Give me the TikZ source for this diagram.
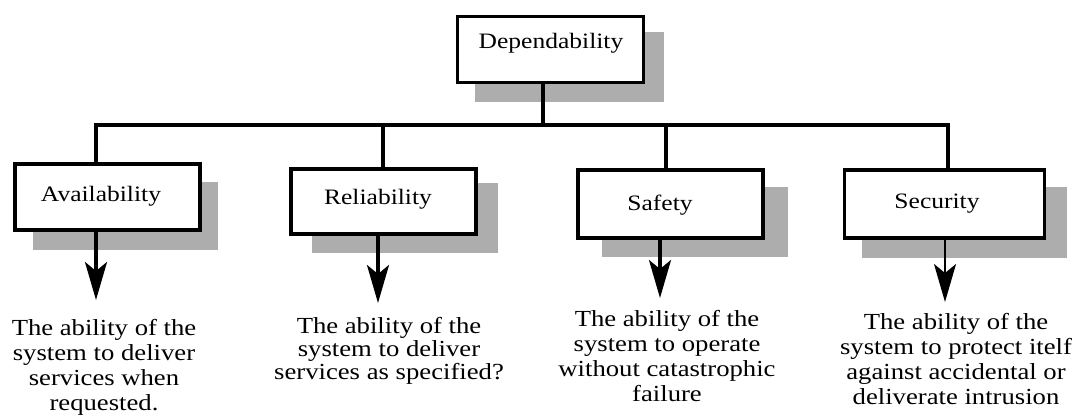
\documentclass[tikz,border=0pt]{standalone}
\usepackage{fontspec}
\setmainfont{Liberation Serif}[FakeStretch=1.16]
\usetikzlibrary{arrows.meta}
\begin{document}
\begin{tikzpicture}[x=1pt,y=-1pt,
  shadowbox/.style={fill=black!32, draw=none},
  mainbox/.style={draw=black, line width=3.6pt, fill=white, rectangle, inner sep=0pt},
  lbl/.style={font=\fontsize{22}{24}\selectfont, inner sep=0pt},
  desc/.style={font=\fontsize{23}{25}\selectfont, align=center, inner xsep=0pt, anchor=north},
  wire/.style={line width=3.3pt},
  arr/.style={line width=3.3pt, -{Stealth[length=38pt,width=22pt,inset=9pt]}},
  thinarr/.style={line width=2pt, -{Stealth[length=38pt,width=22pt,inset=9pt]}}]
\useasboundingbox (0,0) rectangle (1075,415);

% shadows
\fill[shadowbox] (475,32) rectangle (664,102);
\fill[shadowbox] (33,182) rectangle (218,250);
\fill[shadowbox] (312,183) rectangle (498,253);
\fill[shadowbox] (602,187) rectangle (788,257);
\fill[shadowbox] (862,187) rectangle (1067,258);

% boxes
\node[mainbox, minimum width=186pt, minimum height=66pt] (dep) at (550.5,49.5) {};
\node[mainbox, minimum width=185pt, minimum height=66pt] (av) at (107.5,197) {};
\node[mainbox, minimum width=185pt, minimum height=65pt] (rel) at (383.5,201.5) {};
\node[mainbox, minimum width=185pt, minimum height=68pt] (saf) at (670.5,204) {};
\node[mainbox, minimum width=200pt, minimum height=68pt] (sec) at (944.5,204) {};

% labels
\node[lbl] (depl) at (551,43) {Dependability};
\node[lbl] (avl) at (101,196) {Availability};
\node[lbl] (rell) at (378,199) {Reliability};
\node[lbl] (safl) at (660,205) {Safety};
\node[lbl] (secl) at (937,204) {Security};

% tree connectors
\coordinate (jd) at (543,125);
\coordinate (j1) at (96,125);
\coordinate (j2) at (383,125);
\coordinate (j3) at (666,125);
\coordinate (j4) at (948,125);
\draw[wire] (dep.south -| jd) -- (jd);
\draw[wire, line cap=rect] (j1) -- (j4);
\draw[wire] (j1) -- (av.north -| j1);
\draw[wire] (j2) -- (rel.north -| j2);
\draw[wire] (j3) -- (saf.north -| j3);
\draw[wire] (j4) -- (sec.north -| j4);

% descriptions
\node[desc, inner ysep=19pt] (avd) at (104,300) {The ability of the\\system to deliver\\services when\\requested.};
\node[desc, inner ysep=14pt, font=\fontsize{23}{23}\selectfont] (reld) at (389,303) {The ability of the\\system to deliver\\services as specified?};
\node[desc, inner ysep=12pt] (safd) at (667,298) {The ability of the\\system to operate\\without catastrophic\\failure};
\node[desc, inner ysep=11pt] (secd) at (956,302) {The ability of the\\system to protect itelf\\against accidental or\\deliverate intrusion};

% arrows
\coordinate (a1) at (96,0);
\coordinate (a2) at (378,0);
\coordinate (a3) at (660,0);
\coordinate (a4) at (945,0);
\draw[arr] (av.south -| a1) -- (avd.north -| a1);
\draw[arr] (rel.south -| a2) -- (reld.north -| a2);
\draw[arr] (saf.south -| a3) -- (safd.north -| a3);
\draw[thinarr] (sec.south -| a4) -- (secd.north -| a4);
\end{tikzpicture}
\end{document}
